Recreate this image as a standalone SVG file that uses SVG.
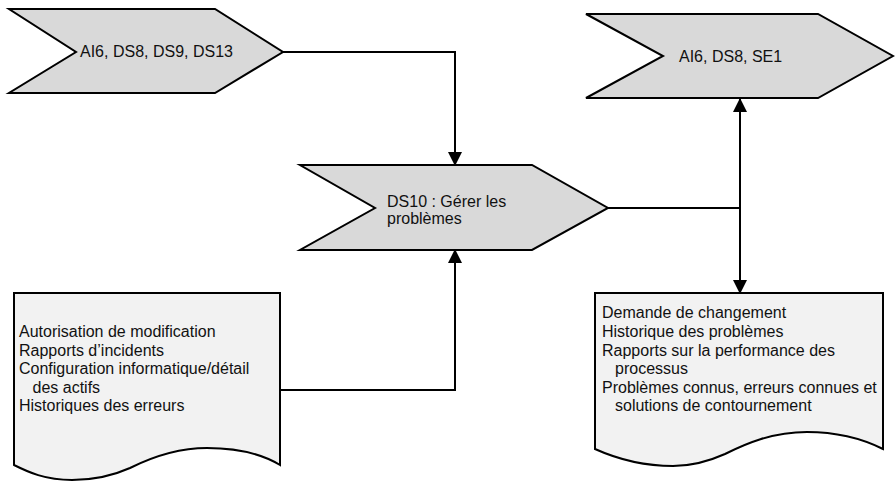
<svg xmlns="http://www.w3.org/2000/svg" width="895" height="481" viewBox="0 0 895 481">
  <style>
    .chev { fill: #d9d9d9; stroke: #000; stroke-width: 2; stroke-linejoin: miter; }
    .doc { fill: #f2f2f2; stroke: #000; stroke-width: 2; stroke-linejoin: miter; }
    .lbl { font-family: "Liberation Sans", Arial, sans-serif; font-size: 16px; fill: #111; }
    .conn { fill: none; stroke: #000; stroke-width: 2; }
  </style>
  <defs>
    <marker id="arrow" viewBox="0 0 14 14" refX="13" refY="7" markerWidth="14" markerHeight="14" markerUnits="userSpaceOnUse" orient="auto">
      <path d="M0,0 L14,7 L0,14 Z" fill="#000"/>
    </marker>
  </defs>

  <rect width="895" height="481" fill="#fff"/>

  <!-- connectors -->
  <g id="connectors">
    <path class="conn" d="M283,52 H455 V165" marker-end="url(#arrow)"/>
    <path class="conn" d="M280,390 H455 V250" marker-end="url(#arrow)"/>
    <path class="conn" d="M608,208 H740"/>
    <path class="conn" d="M740,208 V99" marker-end="url(#arrow)"/>
    <path class="conn" d="M740,208 V293" marker-end="url(#arrow)"/>
  </g>

  <!-- inputs chevron -->
  <g id="in-sources">
    <polygon class="chev" points="9,9 215,9 283,52 215,93 9,93 76,52"/>
    <text class="lbl" x="80" y="57">AI6, DS8, DS9, DS13</text>
  </g>

  <!-- outputs chevron -->
  <g id="out-targets">
    <polygon class="chev" points="586,14 818,14 893,56 818,98 586,98 663,56"/>
    <text class="lbl" x="679" y="61.5">AI6, DS8, SE1</text>
  </g>

  <!-- process -->
  <g id="ds10">
    <polygon class="chev" points="300,165 532,165 608,208 532,250 300,250 375,208"/>
    <text class="lbl" x="387" y="206.5">DS10 : Gérer les</text>
    <text class="lbl" x="387" y="223.5">problèmes</text>
  </g>

  <!-- input documents -->
  <g id="in-docs">
    <path class="doc" d="M14,293 H280 V465 C265,456 240,448 207,448 C175,448 150,458 130,468 C110,477 92,480 72,480 C45,480 28,472 14,465 Z"/>
    <text class="lbl" x="19" y="337">Autorisation de modification</text>
    <text class="lbl" x="19" y="355.6">Rapports d’incidents</text>
    <text class="lbl" x="19" y="374.2">Configuration informatique/détail</text>
    <text class="lbl" x="32.5" y="392.8">des actifs</text>
    <text class="lbl" x="19" y="411.4">Historiques des erreurs</text>
  </g>

  <!-- output documents -->
  <g id="out-docs">
    <path class="doc" d="M595,293 H883 V449 C865,440 840,432 807,432 C772,432 745,444 725,454 C705,463 690,466 673,466 C640,466 615,458 595,449 Z"/>
    <text class="lbl" x="602" y="318.3">Demande de changement</text>
    <text class="lbl" x="602" y="336.9">Historique des problèmes</text>
    <text class="lbl" x="602" y="355.5">Rapports sur la performance des</text>
    <text class="lbl" x="615" y="374.1">processus</text>
    <text class="lbl" x="602" y="392.7">Problèmes connus, erreurs connues et</text>
    <text class="lbl" x="615" y="411.3">solutions de contournement</text>
  </g>
</svg>
